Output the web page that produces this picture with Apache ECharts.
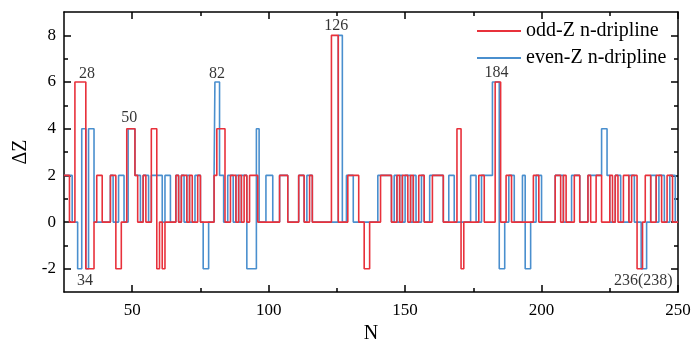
<!DOCTYPE html>
<html><head><meta charset="utf-8">
<script src="https://cdn.jsdelivr.net/npm/echarts@6/dist/echarts.min.js"></script>
<style>html,body{margin:0;padding:0;background:#fff}#c{width:700px;height:349px}</style>
</head><body><div id="c"></div>
<script>
// odd-Z n-dripline: [N, ΔZ] change points (value held until next point)
const oddN  = [25,27,29,33,36,37,39,42,44,46,48,51,52,54,55,57,59,60,61,62,66,67,68,70,71,72,74,75,80,81,84,86,88,89,90,91,92,93,96,104,107,111,113,115,116,123,125.5,129,133,135,137,141,145,147,148,149,151,152,153,155,157,160,164,169,170.5,171.5,177,179,183,185,187,189,197,199,205,207,208,209,212,214,217,218,220,222,225,226,227,228,230,232,233,235,237,238,240,242,244,246,248,250];
const oddDZ = [2,0,6,-2,0,2,0,2,-2,0,4,2,0,2,0,4,-2,0,-2,0,2,0,2,0,2,0,2,0,2,4,0,2,0,2,0,2,0,2,0,2,0,2,0,2,0,8,0,2,0,-2,0,2,0,2,0,2,0,2,0,2,0,2,0,4,-2,0,2,0,6,0,2,0,2,0,2,0,2,0,2,0,2,0,2,0,2,0,2,0,2,0,2,-2,0,2,0,2,0,2,0,0];
// even-Z n-dripline
const evenN  = [25,28,30,31.5,33,34,36,42,43,45,47,48.5,51,53,54,56,57,61,62,64,66,67,68,69,70,71,73,75,76,78,80,80.3,82,83.5,85,87,88,89,90,92,95.5,96.5,99,101.5,104,107,111,113,114,116,125.5,127,128.5,131,140,145,146,147,148,149,150,152,153,154,156,157,159,164,166,168,174,176,178,182,184.5,186.5,188,190,193,194,196,198,200,205,208,211,214,217,222,224,225,227,229,232,234,236.5,238.5,240,242,243,245,247,249,250];
const evenDZ = [2,0,-2,4,-2,4,0,2,0,2,0,4,2,0,2,0,2,0,2,0,2,0,2,0,2,0,2,0,-2,0,2,6,2,0,2,0,2,0,2,-2,4,0,2,0,2,0,2,0,2,0,8,0,2,0,2,0,2,0,2,0,2,0,2,0,2,0,2,0,2,0,2,0,2,6,-2,0,2,0,2,-2,0,2,0,2,0,2,0,2,4,2,0,2,0,2,0,-2,0,2,0,2,0,2,0,0];
const xMajor = [50,100,150,200,250];
const xMinor = [75,125,175,225];
const yMajor = [-2,0,2,4,6,8];
const yMinor = [-1,1,3,5,7];
const annText = ['28','50','34','82','126','184','236(238)'];
const annN    = [33.4,48.9,32.7,81.1,124.8,183.5,237.3];
const annDZ   = [6.35,4.45,-2.5,6.35,8.4,6.4,-2.5];

const FONT = 'Liberation Serif';
const RED = '#e8313b', BLUE = '#4a8fce';
const pair = (a,b)=>a.map((v,i)=>[v,b[i]]);
const xBase = (pos, vals, len, showLine, labels) => ({
  type:'value', position:pos, min:25, max:250,
  axisLine:{show:showLine, onZero:false, lineStyle:{color:'#000', width:1.5}},
  axisTick:{show:true, inside:true, length:len, customValues:vals, lineStyle:{color:'#000', width:1.5}},
  axisLabel:{show:labels, customValues:vals, color:'#000', fontFamily:FONT, fontSize:17, margin:10},
  splitLine:{show:false}
});
const yBase = (pos, vals, len, showLine, labels) => ({
  type:'value', position:pos, min:-3, max:9,
  axisLine:{show:showLine, onZero:false, lineStyle:{color:'#000', width:1.5}},
  axisTick:{show:true, inside:true, length:len, customValues:vals, lineStyle:{color:'#000', width:1.5}},
  axisLabel:{show:labels, customValues:vals, color:'#000', fontFamily:FONT, fontSize:17, margin:8},
  splitLine:{show:false}
});
const xMain = xBase('bottom', xMajor, 7, true, true);
xMain.name = 'N'; xMain.nameLocation = 'middle'; xMain.nameGap = 28;
xMain.nameTextStyle = {color:'#000', fontFamily:FONT, fontSize:20};
const yMain = yBase('left', yMajor, 7, true, true);
yMain.name = 'ΔZ'; yMain.nameLocation = 'middle'; yMain.nameGap = 30;
yMain.nameTextStyle = {color:'#000', fontFamily:FONT, fontSize:20};

const chart = echarts.init(document.getElementById('c'), null, {renderer:'canvas'});
chart.setOption({
  animation:false,
  backgroundColor:'#fff',
  grid:{left:64, right:22, top:12, bottom:54},
  legend:{
    data:['odd-Z n-dripline','even-Z n-dripline'],
    orient:'vertical', left:472, top:16, icon:'rect', itemWidth:44, itemHeight:2, itemGap:7,
    textStyle:{color:'#000', fontFamily:FONT, fontSize:20}
  },
  xAxis:[xMain, xBase('bottom', xMinor, 4, false, false), xBase('top', xMajor, 7, true, false), xBase('top', xMinor, 4, false, false)],
  yAxis:[yMain, yBase('left', yMinor, 4, false, false), yBase('right', yMajor, 7, true, false), yBase('right', yMinor, 4, false, false)],
  series:[
    {name:'even-Z n-dripline', type:'line', step:'end', symbol:'none', data:pair(evenN, evenDZ),
     lineStyle:{color:BLUE, width:1.6}, itemStyle:{color:BLUE}, z:2},
    {name:'odd-Z n-dripline', type:'line', step:'end', symbol:'none', data:pair(oddN, oddDZ),
     lineStyle:{color:RED, width:1.6}, itemStyle:{color:RED}, z:3},
    {type:'scatter', symbolSize:0, silent:true, z:5,
     data:annN.map((n,i)=>({value:[n, annDZ[i]], name:annText[i]})),
     label:{show:true, position:'inside', formatter:p=>p.name, color:'#000', fontFamily:FONT, fontSize:16}}
  ]
});
</script></body></html>
